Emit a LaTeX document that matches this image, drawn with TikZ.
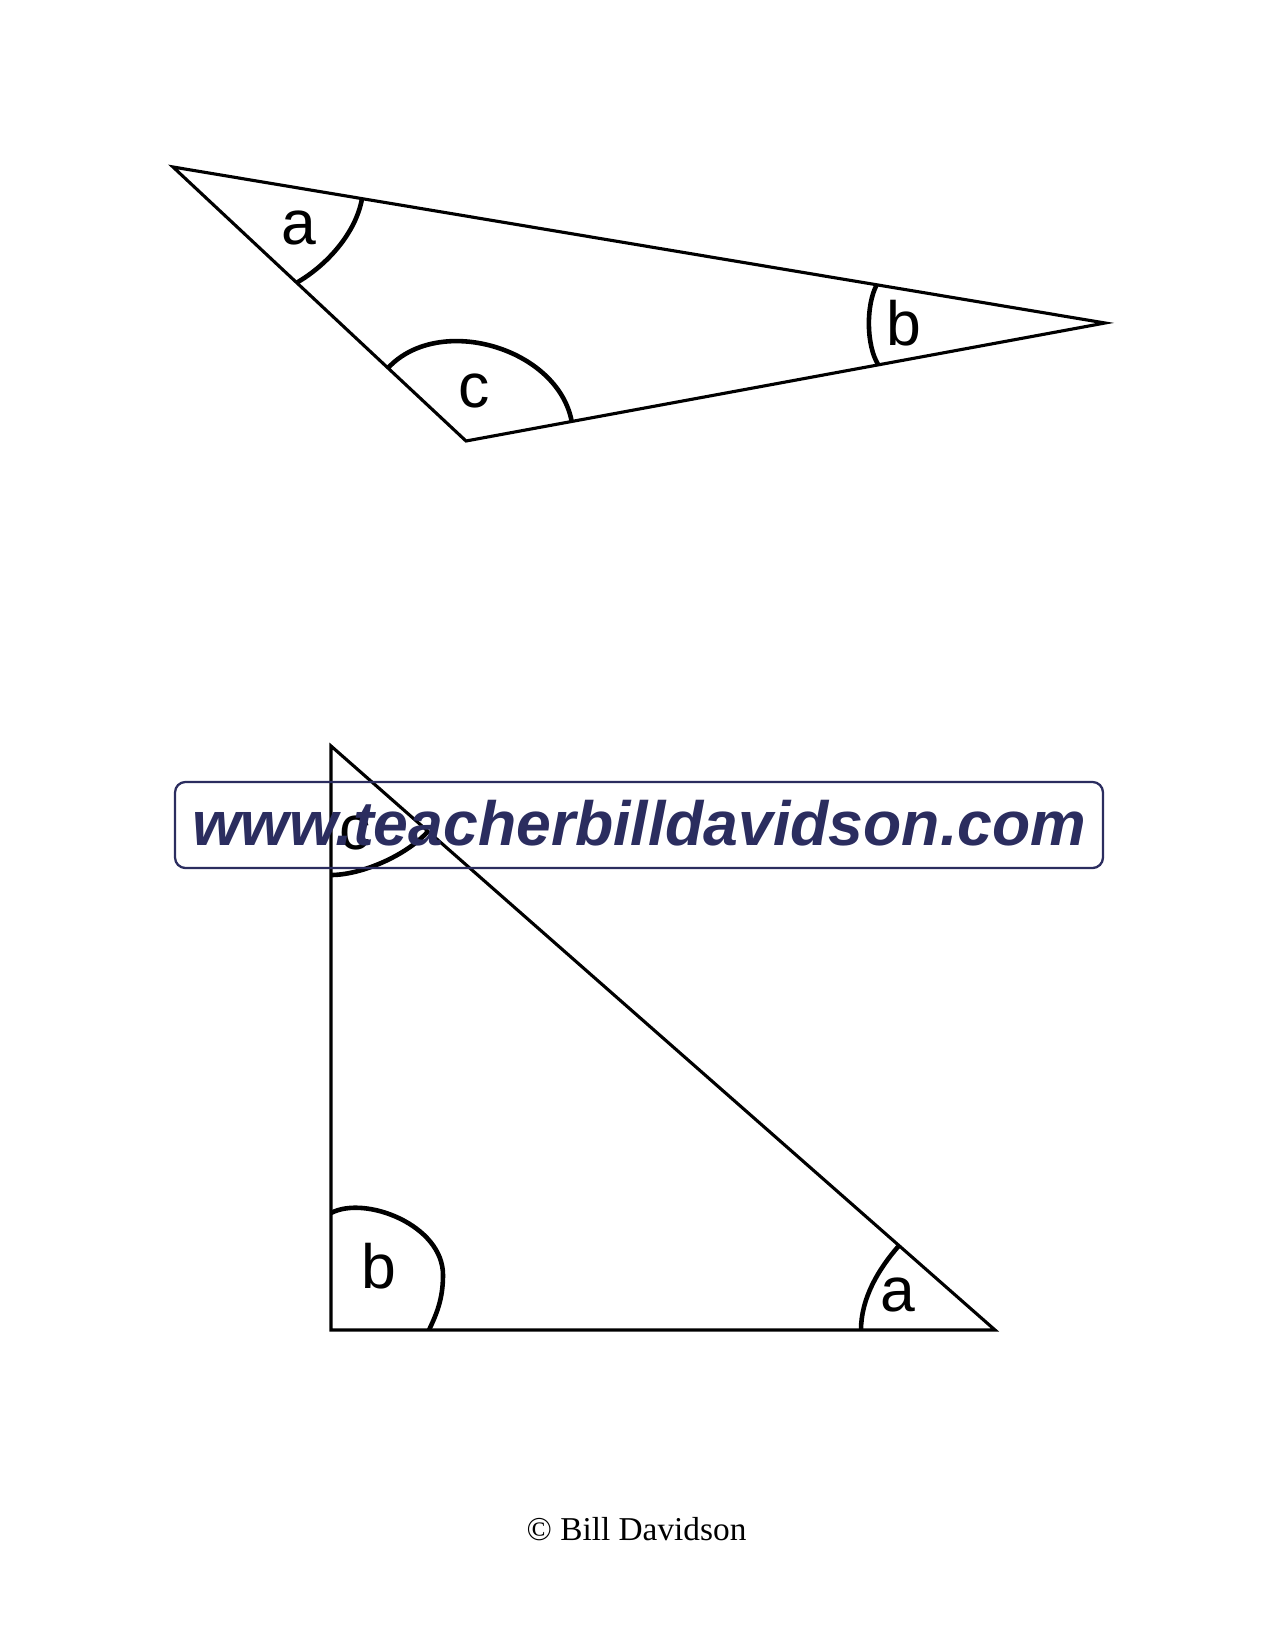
\documentclass[tikz,border=0pt]{standalone}
\usepackage{fontspec}
\setmainfont{Liberation Serif}
\setsansfont{Liberation Sans}
\usepackage{xcolor}
\definecolor{siteblue}{HTML}{2B2D5F}
\tikzset{
  side/.style={line width=1.5pt, line join=miter},
  anglearc/.style={line width=2.2pt},
  anglelbl/.style={font=\sffamily\fontsize{30}{36}\selectfont, inner sep=0pt},
  sitebox/.style={draw=siteblue, line width=1.1pt, rounded corners=5pt,
    text=siteblue, font=\sffamily\bfseries\itshape\fontsize{30}{36}\selectfont,
    minimum width=445.4pt, minimum height=41.3pt,
    text height=20.6pt, text depth=1.4pt}
}
\begin{document}
\begin{tikzpicture}[x={(0.48pt,0)}, y={(0,-0.48pt)}]
  \useasboundingbox (0,0) rectangle (1275,1650);

  % upper triangle
  \coordinate (ta) at (173,167);
  \coordinate (tb) at (1105,323);
  \coordinate (tc) at (466,441);
  \draw[side] (ta) -- (tb) -- (tc) -- cycle;
  \draw[anglearc] (362,198.6) .. controls (355.9,233) and (327,265.2) .. (296.7,282.7);
  \draw[anglearc] (388,368) .. controls (439,313) and (558,348) .. (571.7,421.5);
  \draw[anglearc] (876.7,284.8) .. controls (866,305) and (866,345) .. (878.3,364.9);
  \node[anglelbl] (tla) at (299,228) {a};
  \node[anglelbl] (tlc) at (474,391) {c};
  \node[anglelbl] (tlb) at (904,323) {b};

  % lower triangle
  \coordinate (ra) at (331,746);
  \coordinate (rb) at (331,1330);
  \coordinate (rc) at (995,1330);
  \draw[side] (ra) -- (rb) -- (rc) -- cycle;
  \draw[anglearc] (331,875) .. controls (362.3,875) and (407.3,854.8) .. (428,831.3);
  \draw[anglearc] (331,1213) .. controls (365,1195) and (443,1225) .. (443,1275)
                  .. controls (443,1300) and (436,1315) .. (429,1330);
  \draw[anglearc] (899,1245.6) .. controls (878.2,1269.2) and (861,1298.5) .. (861,1330);
  \node[anglelbl] (rlc) at (355,833) {c};
  \node[anglelbl] (rlb) at (379,1266) {b};
  \node[anglelbl] (rla) at (898,1295) {a};

  % watermark and credit
  \node[sitebox] (site) at (639,825) {www.teacherbilldavidson.com};
  \node[anchor=base, font=\fontsize{16}{19}\selectfont] (credit) at (636.5,1540) {© Bill Davidson};
\end{tikzpicture}
\end{document}
